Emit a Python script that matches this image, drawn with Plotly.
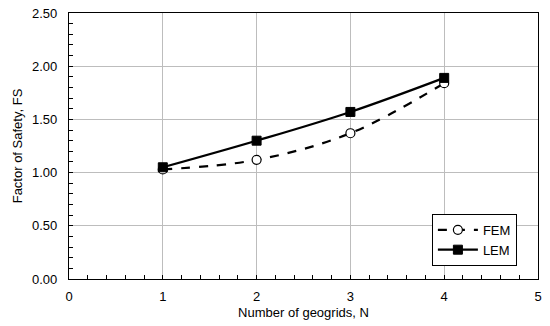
import plotly.graph_objects as go

n_geogrids = [1, 2, 3, 4]
fem = [1.03, 1.12, 1.37, 1.84]
lem = [1.05, 1.30, 1.57, 1.89]
x_ticks = [0, 1, 2, 3, 4, 5]
y_ticks = [0.0, 0.5, 1.0, 1.5, 2.0, 2.5]

FONT = "Liberation Sans, Arial, sans-serif"

fig = go.Figure()
fig.add_trace(go.Scatter(
    x=n_geogrids, y=fem, name="FEM", mode="lines+markers",
    line=dict(color="black", width=2.2, dash="dash", shape="spline"),
    marker=dict(symbol="circle", size=9, color="white", line=dict(color="black", width=1.2)),
))
fig.add_trace(go.Scatter(
    x=n_geogrids, y=lem, name="LEM", mode="lines+markers",
    line=dict(color="black", width=2.2, shape="spline"),
    marker=dict(symbol="square", size=9, color="black", line=dict(color="black", width=1)),
))

axis_common = dict(
    showline=True, linecolor="black", linewidth=1.2, mirror=True,
    showgrid=True, gridcolor="#bdbdbd", gridwidth=1.2, zeroline=False,
    ticks="inside", ticklen=0, tickcolor="black", automargin=False,
    tickfont=dict(family=FONT, size=13, color="black"),
)

fig.update_xaxes(
    range=[0, 5], tickvals=x_ticks, ticktext=[str(v) for v in x_ticks],
    ticklabelstandoff=5,
    title=dict(text="Number of geogrids, N", font=dict(family=FONT, size=13, color="black"), standoff=5),
    minor=dict(dtick=0.2, ticks="inside", ticklen=4, tickcolor="black", showgrid=False),
    **axis_common,
)
fig.update_yaxes(
    range=[0, 2.5], tickvals=y_ticks, ticktext=[f"{v:.2f}" for v in y_ticks],
    ticklabelstandoff=8,
    title=dict(text="Factor of Safety, FS", font=dict(family=FONT, size=13, color="black"), standoff=6),
    minor=dict(dtick=0.1, ticks="inside", ticklen=4, tickcolor="black", showgrid=False),
    **axis_common,
)

fig.update_layout(
    width=550, height=326,
    margin=dict(l=69, r=12, t=13, b=47),
    paper_bgcolor="white", plot_bgcolor="white",
    showlegend=True,
    legend=dict(
        x=0.955, y=0.245, xanchor="right", yanchor="top",
        bgcolor="white", bordercolor="black", borderwidth=1,
        font=dict(family=FONT, size=13, color="black"),
        itemwidth=40, tracegroupgap=2,
    ),
)

fig.write_html("out.html", config={"displayModeBar": False},
               post_script="document.body.style.margin='0';")
